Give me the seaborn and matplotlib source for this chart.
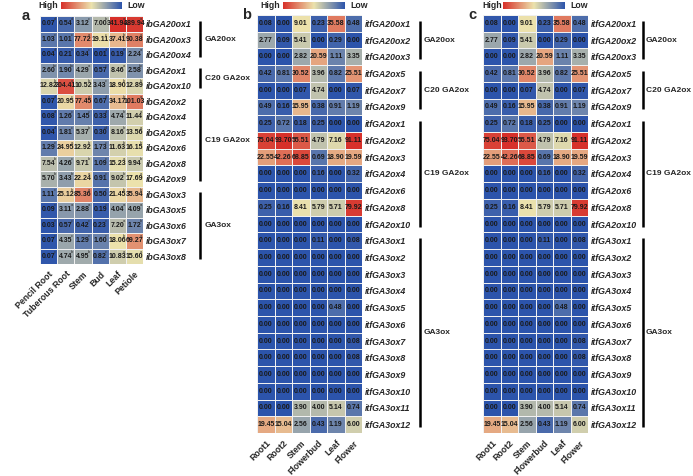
import numpy as np
import pandas as pd
import matplotlib
matplotlib.use("Agg")
import matplotlib.pyplot as plt
import seaborn as sns
from matplotlib.colors import LinearSegmentedColormap
from matplotlib.transforms import blended_transform_factory

sns.set_style("white")
plt.rcParams['font.family'] = ['Liberation Sans', 'DejaVu Sans']

# ---------------- data ----------------
tissues_a = ["Pencil Root", "Tuberous Root", "Stem", "Bud", "Leaf", "Petiole"]
genes_a = ["ibGA20ox1", "ibGA20ox3", "ibGA20ox4", "ibGA2ox1", "ibGA2ox10",
           "ibGA2ox2", "ibGA2ox4", "ibGA2ox5", "ibGA2ox6", "ibGA2ox8", "ibGA2ox9",
           "ibGA3ox3", "ibGA3ox5", "ibGA3ox6", "ibGA3ox7", "ibGA3ox8"]
values_a = [
    [0.07, 0.54, 3.12, 7.00, 341.94, 289.94],
    [1.03, 1.01, 77.72, 19.11, 37.41, 90.38],
    [0.04, 0.21, 0.34, 0.01, 0.19, 2.24],
    [2.60, 1.90, 4.29, 0.57, 8.46, 2.58],
    [12.82, 204.41, 10.52, 3.43, 18.90, 12.89],
    [0.07, 20.95, 77.45, 0.67, 34.17, 101.03],
    [0.08, 1.26, 1.45, 0.33, 4.74, 11.44],
    [0.04, 1.81, 5.37, 0.30, 8.16, 13.56],
    [1.29, 24.95, 12.92, 1.73, 11.63, 16.15],
    [7.54, 4.26, 9.71, 1.09, 15.23, 9.94],
    [5.70, 3.43, 22.24, 0.91, 9.02, 17.69],
    [1.11, 25.12, 85.36, 0.50, 21.45, 35.94],
    [0.09, 3.11, 2.88, 0.19, 4.04, 4.09],
    [0.03, 0.57, 0.42, 0.23, 7.20, 1.72],
    [0.07, 4.35, 1.29, 1.60, 18.06, 69.27],
    [0.07, 4.74, 4.95, 0.82, 10.83, 15.60],
]
letters_a = [
    ["d", "d", "c", "b", "a", "a"],
    ["c", "c", "a", "c", "b", "a"],
    ["d", "c", "c", "d", "b", "a"],
    ["bc", "bc", "a", "c", "a", "bc"],
    ["b", "a", "b", "c", "b", "b"],
    ["d", "c", "a", "d", "b", "a"],
    ["d", "c", "c", "d", "b", "a"],
    ["d", "c", "b", "cd", "b", "a"],
    ["c", "a", "b", "c", "b", "b"],
    ["b", "c", "b", "c", "a", "b"],
    ["b", "b", "a", "c", "b", "a"],
    ["c", "b", "a", "c", "b", "b"],
    ["c", "a", "a", "c", "a", "a"],
    ["c", "c", "c", "c", "a", "b"],
    ["c", "c", "c", "c", "b", "a"],
    ["c", "b", "b", "c", "a", "a"],
]
groups_a = [("GA20ox", 0, 2), ("C20 GA2ox", 3, 4), ("C19 GA2ox", 5, 10), ("GA3ox", 11, 15)]

tissues_b = ["Root1", "Root2", "Stem", "Flowerbud", "Leaf", "Flower"]
genes_b = ["itfGA20ox1", "itfGA20ox2", "itfGA20ox3", "itfGA2ox5", "itfGA2ox7", "itfGA2ox9",
           "itfGA2ox1", "itfGA2ox2", "itfGA2ox3", "itfGA2ox4", "itfGA2ox6", "itfGA2ox8",
           "itfGA2ox10", "itfGA3ox1", "itfGA3ox2", "itfGA3ox3", "itfGA3ox4", "itfGA3ox5",
           "itfGA3ox6", "itfGA3ox7", "itfGA3ox8", "itfGA3ox9", "itfGA3ox10", "itfGA3ox11",
           "itfGA3ox12"]
values_b = [
    [0.08, 0.00, 9.01, 0.23, 35.58, 0.48],
    [2.77, 0.09, 5.41, 0.00, 0.29, 0.00],
    [0.00, 0.00, 2.82, 20.59, 1.11, 3.35],
    [0.42, 0.81, 30.52, 3.96, 0.82, 25.51],
    [0.00, 0.00, 0.07, 4.74, 0.00, 0.07],
    [0.49, 0.16, 15.95, 0.38, 0.91, 1.19],
    [0.25, 0.72, 0.18, 0.25, 0.00, 0.00],
    [75.04, 93.70, 55.51, 4.79, 7.16, 91.11],
    [22.55, 42.26, 68.85, 0.69, 18.90, 19.59],
    [0.00, 0.00, 0.00, 0.16, 0.00, 0.32],
    [0.00, 0.00, 0.00, 0.00, 0.00, 0.00],
    [0.25, 0.16, 8.41, 5.79, 5.71, 79.92],
    [0.00, 0.00, 0.00, 0.00, 0.00, 0.00],
    [0.00, 0.00, 0.00, 0.11, 0.00, 0.08],
    [0.00, 0.00, 0.00, 0.00, 0.00, 0.00],
    [0.00, 0.00, 0.00, 0.00, 0.00, 0.00],
    [0.00, 0.00, 0.00, 0.00, 0.00, 0.00],
    [0.00, 0.00, 0.00, 0.00, 0.48, 0.00],
    [0.00, 0.00, 0.00, 0.00, 0.00, 0.00],
    [0.00, 0.00, 0.00, 0.00, 0.00, 0.08],
    [0.00, 0.00, 0.00, 0.00, 0.00, 0.08],
    [0.00, 0.00, 0.00, 0.00, 0.00, 0.00],
    [0.00, 0.00, 0.00, 0.00, 0.00, 0.00],
    [0.00, 0.00, 3.90, 4.00, 5.14, 0.74],
    [19.45, 15.04, 2.56, 0.43, 1.19, 6.00],
]
groups_b = [("GA20ox", 0, 2), ("C20 GA2ox", 3, 5), ("C19 GA2ox", 6, 12), ("GA3ox", 13, 24)]

# panel c shows the same data as panel b
tissues_c = tissues_b
genes_c = genes_b
values_c = values_b
groups_c = groups_b

# ---------------- figure ----------------
W, H = 693, 476
fig = plt.figure(figsize=(W / 100, H / 100), dpi=100)


def rect(x0, y0, x1, y1):
    return [x0 / W, 1 - y1 / H, (x1 - x0) / W, (y1 - y0) / H]


cmap = LinearSegmentedColormap.from_list("hl", ["#2c54ab", "#ece3ad", "#d7302a"])
LAB = 6.3
GRP = 6.0


def panel(letter, letter_xy, hm_box, cbar_box, high_x, low_x, genes, tissues, vals,
          groups, brk_px, lab_px, sig=None):
    ax = fig.add_axes(rect(*hm_box))
    cax = fig.add_axes(rect(*cbar_box))
    data = np.array(vals, float)
    score = np.log2(data + 1)
    annot = np.array([[f"{v:.2f}" for v in row] for row in data])
    df = pd.DataFrame(score, index=genes, columns=tissues)
    sns.heatmap(df, ax=ax, cmap=cmap, vmin=0, vmax=score.max(), annot=annot, fmt="",
                annot_kws={"fontsize": 5, "fontweight": "bold", "color": "#1a1a1a"},
                linewidths=0.7, linecolor="#f0f0f0", cbar=True, cbar_ax=cax,
                cbar_kws={"orientation": "horizontal"})
    cb = ax.collections[0].colorbar
    cb.outline.set_visible(False)
    cax.invert_xaxis()
    cax.set_xticks([])
    cax.tick_params(length=0)

    ax.yaxis.tick_right()
    ax.set_yticks(np.arange(len(genes)) + 0.5)
    ax.set_yticklabels(genes, rotation=0, fontstyle="italic", fontweight="bold", fontsize=LAB)
    ax.set_xticks(np.arange(len(tissues)) + 0.5)
    ax.set_xticklabels(tissues, rotation=45, ha="right", rotation_mode="anchor",
                       fontweight="bold", fontsize=LAB)
    ax.tick_params(axis="both", length=0)
    ax.tick_params(axis="y", pad=2)
    ax.tick_params(axis="x", pad=4)
    ax.set_xlabel("")
    ax.set_ylabel("")

    if sig is not None:
        for i, row in enumerate(sig):
            for j, s in enumerate(row):
                ax.text(j + 0.86, i + 0.2, s, fontsize=3, color="#333333",
                        ha="center", va="center")

    x0, x1 = hm_box[0], hm_box[2]
    tr = blended_transform_factory(ax.transAxes, ax.transData)
    bx = (brk_px - x0) / (x1 - x0)
    lx = (lab_px - x0) / (x1 - x0)
    for name, s, e in groups:
        ax.plot([bx, bx], [s + 0.35, e + 1 - 0.35], color="black", lw=1.8,
                transform=tr, clip_on=False, solid_capstyle="butt")
        ax.text(lx, (s + e + 1) / 2, name, transform=tr, fontsize=GRP,
                fontweight="bold", ha="left", va="center")

    fig.text(letter_xy[0] / W, 1 - letter_xy[1] / H, letter, fontsize=10.5,
             fontweight="bold", ha="left", va="center")
    cy = 1 - ((cbar_box[1] + cbar_box[3]) / 2) / H
    fig.text(high_x / W, cy, "High", fontsize=6.3, fontweight="bold", ha="left", va="center")
    fig.text(low_x / W, cy, "Low", fontsize=6.3, fontweight="bold", ha="left", va="center")
    return ax


panel("a", (22, 16), (40, 16, 143, 264), (61, 2, 122, 9), 38, 127,
      genes_a, tissues_a, values_a, groups_a, 200, 205, sig=letters_a)
panel("b", (242, 15), (257, 15, 362, 433), (283, 2, 345, 9), 260, 350,
      genes_b, tissues_b, values_b, groups_b, 420, 424)
panel("c", (468, 15), (483, 15, 588, 433), (503, 2, 565, 9), 482, 570,
      genes_c, tissues_c, values_c, groups_c, 643, 646)

fig.savefig("out.png", dpi=100)
